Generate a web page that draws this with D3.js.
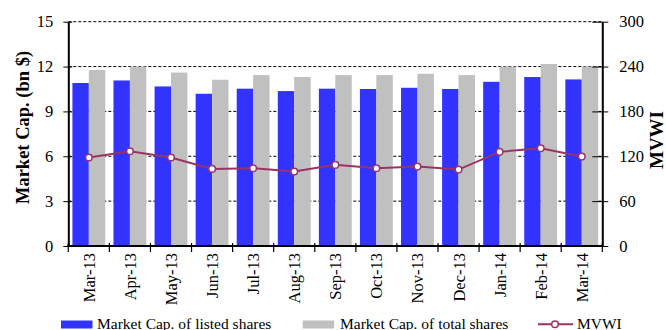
<!DOCTYPE html>
<html>
<head>
<meta charset="utf-8">
<script src="https://cdn.jsdelivr.net/npm/d3@7"></script>
<style>
  html, body { margin: 0; padding: 0; background: #fff; }
  svg { display: block; }
  text { font-family: "Liberation Serif", "Times New Roman", serif; fill: #000; }
</style>
</head>
<body>
<svg id="chart" width="666" height="330"></svg>
<script>
const categories = ["Mar-13","Apr-13","May-13","Jun-13","Jul-13","Aug-13","Sep-13","Oct-13","Nov-13","Dec-13","Jan-14","Feb-14","Mar-14"];
const listedShares = [10.9, 11.07, 10.67, 10.18, 10.52, 10.36, 10.52, 10.5, 10.58, 10.5, 10.98, 11.3, 11.14];
const totalShares = [11.77, 12.0, 11.6, 11.12, 11.43, 11.3, 11.43, 11.43, 11.52, 11.43, 12.0, 12.17, 12.0];
const mvwi = [118.3, 126.8, 118.3, 103.1, 104.0, 99.5, 108.5, 104.0, 106.2, 102.2, 125.9, 130.8, 119.6];
const leftTicks = [0, 3, 6, 9, 12, 15];
const rightTicks = [0, 60, 120, 180, 240, 300];
const seriesNames = ["Market Cap. of listed shares", "Market Cap. of total shares", "MVWI"];
const colors = { listed: "#3333FF", total: "#C0C0C0", line: "#993366" };

const svg = d3.select("#chart");
const L = 68.3, R = 602.3, T = 21.7, B = 246;

const x = d3.scaleBand().domain(categories).range([L, R]).paddingInner(0.2).paddingOuter(0.1);
const yL = d3.scaleLinear().domain([0, 15]).range([B, T]);
const yR = d3.scaleLinear().domain([0, 300]).range([B, T]);
const half = x.bandwidth() / 2;

// gridlines
svg.append("g").selectAll("line").data(leftTicks.filter(d => d > 0)).join("line")
  .attr("x1", L).attr("x2", R)
  .attr("y1", d => yL(d)).attr("y2", d => yL(d))
  .attr("stroke", "#000").attr("stroke-width", 1).attr("stroke-dasharray", "3,2");

// bars
svg.append("g").selectAll("rect").data(categories).join("rect")
  .attr("x", d => x(d)).attr("width", half)
  .attr("y", (d, i) => yL(listedShares[i])).attr("height", (d, i) => B - yL(listedShares[i]))
  .attr("fill", colors.listed);
svg.append("g").selectAll("rect").data(categories).join("rect")
  .attr("x", d => x(d) + half).attr("width", half)
  .attr("y", (d, i) => yL(totalShares[i])).attr("height", (d, i) => B - yL(totalShares[i]))
  .attr("fill", colors.total);

// line
const line = d3.line().x((d, i) => x(categories[i]) + half).y(d => yR(d));
svg.append("path").datum(mvwi).attr("d", line)
  .attr("fill", "none").attr("stroke", colors.line).attr("stroke-width", 2);
svg.append("g").selectAll("circle").data(mvwi).join("circle")
  .attr("cx", (d, i) => x(categories[i]) + half).attr("cy", d => yR(d)).attr("r", 3.3)
  .attr("fill", "#fff").attr("stroke", colors.line).attr("stroke-width", 1.5);

// left axis
const gL = svg.append("g").attr("transform", `translate(${L},0)`)
  .call(d3.axisLeft(yL).tickValues(leftTicks).tickSize(5).tickPadding(10).tickSizeOuter(0));
gL.attr("font-family", null);
gL.select(".domain").attr("stroke-width", 2);
gL.selectAll(".tick line").attr("x2", -5).attr("x1", 4);
gL.selectAll("text").style("font-size", "16.5px");

// right axis
const gR = svg.append("g").attr("transform", `translate(${R},0)`)
  .call(d3.axisRight(yR).tickValues(rightTicks).tickSize(5).tickPadding(12).tickSizeOuter(0));
gR.attr("font-family", null);
gR.select(".domain").attr("stroke-width", 2);
gR.selectAll(".tick line").attr("x1", -10).attr("x2", 6);
gR.selectAll("text").style("font-size", "16.5px");

// bottom axis
const gB = svg.append("g").attr("transform", `translate(0,${B})`);
gB.append("line").attr("x1", L - 1).attr("x2", R + 1).attr("stroke", "#000").attr("stroke-width", 2);
const step = x.step();
const boundaries = d3.range(categories.length + 1).map(i => L + i * step);
gB.selectAll("line.tk").data(boundaries).join("line").attr("class", "tk")
  .attr("x1", d => d).attr("x2", d => d).attr("y1", -3).attr("y2", 6)
  .attr("stroke", "#000").attr("stroke-width", 1.2);
gB.selectAll("text").data(categories).join("text")
  .attr("transform", d => `translate(${x(d) + half + 6},7) rotate(-90)`)
  .attr("text-anchor", "end")
  .style("font-size", "16.5px")
  .text(d => d);

// axis titles
svg.append("text").attr("transform", "translate(29,127.5) rotate(-90)")
  .attr("text-anchor", "middle").style("font-size", "18.5px").style("font-weight", "bold")
  .text("Market Cap. (bn $)");
svg.append("text").attr("transform", "translate(663,140) rotate(-90)")
  .attr("text-anchor", "middle").style("font-size", "19px").style("font-weight", "bold")
  .text("MVWI");

// legend
const lg = svg.append("g");
lg.append("rect").attr("x", 61).attr("y", 320.5).attr("width", 31.5).attr("height", 8).attr("fill", colors.listed);
lg.append("text").attr("x", 97).attr("y", 328.5).style("font-size", "15.5px").text(seriesNames[0]);
lg.append("rect").attr("x", 302.7).attr("y", 320.5).attr("width", 31.5).attr("height", 8).attr("fill", colors.total);
lg.append("text").attr("x", 340).attr("y", 328.5).style("font-size", "15.5px").text(seriesNames[1]);
lg.append("line").attr("x1", 538).attr("x2", 573).attr("y1", 324.3).attr("y2", 324.3)
  .attr("stroke", colors.line).attr("stroke-width", 2);
lg.append("circle").attr("cx", 555).attr("cy", 324.3).attr("r", 3.3)
  .attr("fill", "#fff").attr("stroke", colors.line).attr("stroke-width", 1.5);
lg.append("text").attr("x", 577).attr("y", 328.5).style("font-size", "15.5px").text(seriesNames[2]);
</script>
</body>
</html>
